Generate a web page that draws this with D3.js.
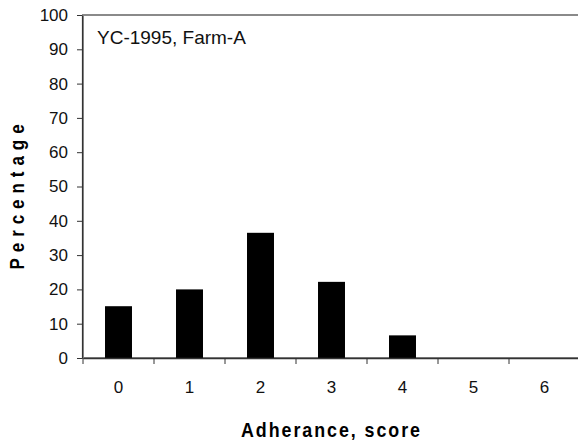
<!DOCTYPE html>
<html>
<head>
<meta charset="utf-8">
<script src="https://cdn.jsdelivr.net/npm/d3@7"></script>
<style>
  html, body { margin: 0; padding: 0; background: #fff; }
  svg { display: block; }
</style>
</head>
<body>
<svg id="chart" width="578" height="444"></svg>
<script>
const categories = ["0", "1", "2", "3", "4", "5", "6"];
const percentages = [15.1, 20, 36.5, 22.2, 6.6, 0, 0];
const yTicks = [0, 10, 20, 30, 40, 50, 60, 70, 80, 90, 100];
const titleText = "YC-1995, Farm-A";
const xTitle = "Adherance, score";
const yTitle = "Percentage";

const svg = d3.select("#chart");
const mLeft = 83, mRight = 580, mTop = 15, mBottom = 358;

const x = d3.scaleBand().domain(categories).range([mLeft, mRight])
  .paddingInner(0.62).paddingOuter(0.31);
const y = d3.scaleLinear().domain([0, 100]).range([mBottom, mTop]);

// plot frame
svg.append("rect")
  .attr("x", mLeft).attr("y", mTop)
  .attr("width", mRight - mLeft).attr("height", mBottom - mTop)
  .attr("fill", "none").attr("stroke", "#8a8a8a").attr("stroke-width", 2);

// bars
svg.append("g").selectAll("rect").data(percentages).join("rect")
  .attr("x", (d, i) => x(categories[i]))
  .attr("y", d => y(d))
  .attr("width", x.bandwidth())
  .attr("height", d => mBottom - y(d))
  .attr("fill", "#000");

// y axis
const yAxis = svg.append("g").attr("transform", `translate(${mLeft - 1},0)`)
  .call(d3.axisLeft(y).tickValues(yTicks).tickSize(5).tickPadding(9).tickSizeOuter(0));
yAxis.select(".domain").attr("stroke", "#333").attr("stroke-width", 1.2);
yAxis.selectAll(".tick line").attr("stroke", "#333");
yAxis.selectAll(".tick text")
  .attr("font-family", "Liberation Sans, Arial, sans-serif")
  .attr("font-size", 17).attr("fill", "#111");

// x axis (labels centered in bands)
const xAxis = svg.append("g").attr("transform", `translate(0,${mBottom})`)
  .call(d3.axisBottom(x).tickSize(0).tickPadding(23).tickSizeOuter(0));
xAxis.select(".domain").attr("stroke", "#333").attr("stroke-width", 1.5);
xAxis.selectAll(".tick text")
  .attr("font-family", "Liberation Sans, Arial, sans-serif")
  .attr("font-size", 17).attr("fill", "#111");

// x boundary ticks
const boundaries = categories.map((c, i) => x(c) - x.step() * x.paddingInner() / 2);
svg.append("g").selectAll("line").data(boundaries).join("line")
  .attr("x1", d => d).attr("x2", d => d)
  .attr("y1", mBottom).attr("y2", mBottom + 6)
  .attr("stroke", "#333");

// inset title
svg.append("text")
  .attr("x", 97).attr("y", 44)
  .attr("font-family", "Liberation Sans, Arial, sans-serif")
  .attr("font-size", 19).attr("fill", "#111")
  .text(titleText);

// x title (condensed bold)
svg.append("g")
  .attr("transform", `translate(${(mLeft + mRight) / 2},437) scale(0.85,1)`)
  .append("text")
  .attr("text-anchor", "middle")
  .attr("font-family", "Liberation Sans, Arial, sans-serif")
  .attr("font-weight", "bold").attr("font-size", 21)
  .attr("letter-spacing", 2.3).attr("fill", "#000")
  .text(xTitle);

// y title (condensed bold, rotated)
svg.append("g")
  .attr("transform", "translate(24,194) rotate(-90) scale(0.85,1)")
  .append("text")
  .attr("text-anchor", "middle")
  .attr("font-family", "Liberation Sans, Arial, sans-serif")
  .attr("font-weight", "bold").attr("font-size", 20)
  .attr("letter-spacing", 7).attr("fill", "#000")
  .text(yTitle);
</script>
</body>
</html>
